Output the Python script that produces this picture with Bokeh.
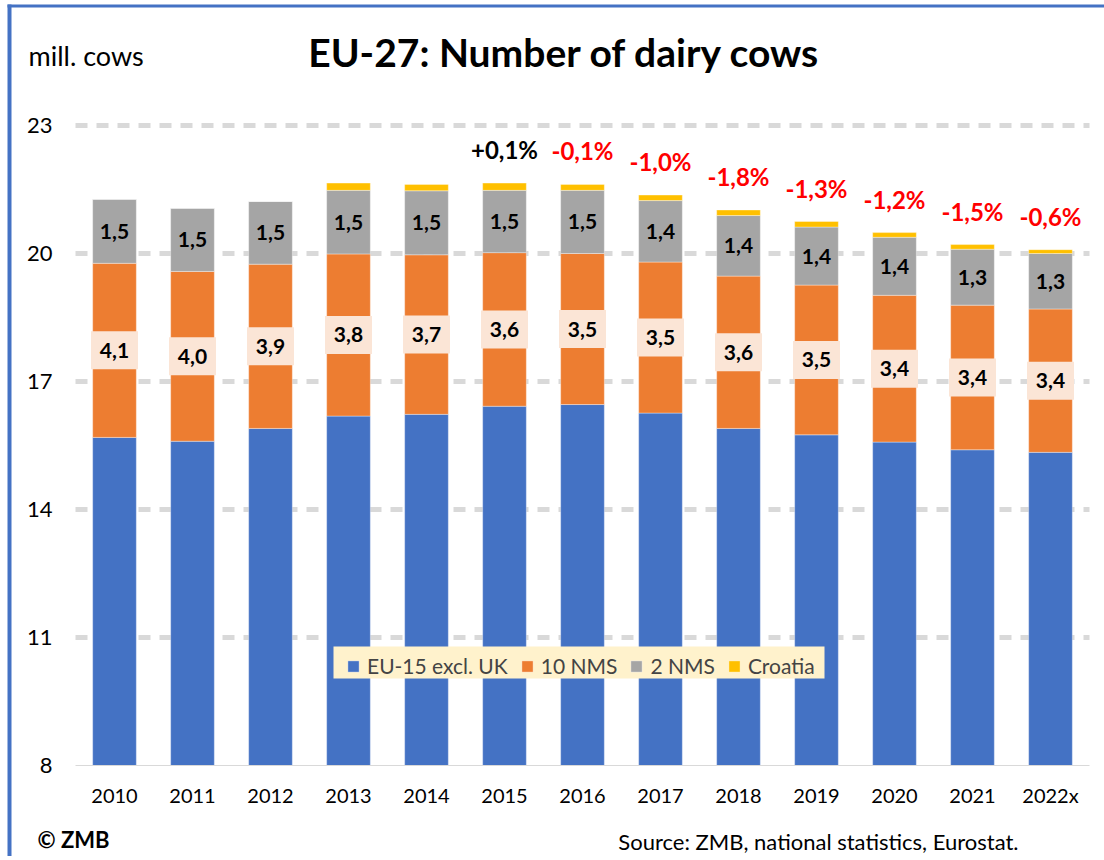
import numpy as np
from bokeh.plotting import figure
from bokeh.models import (ColumnDataSource, Range1d, FixedTicker, LinearAxis,
                          Legend, LegendItem, Label, BoxAnnotation)
from bokeh.core.properties import value
from bokeh.embed import file_html
from bokeh.resources import INLINE

# ---------------- data ----------------
years = ["2010", "2011", "2012", "2013", "2014", "2015", "2016",
         "2017", "2018", "2019", "2020", "2021", "2022x"]
eu15 = [15.69, 15.60, 15.90, 16.19, 16.23, 16.42, 16.46, 16.26, 15.90, 15.75, 15.58, 15.40, 15.34]
nms10 = [4.08, 3.98, 3.85, 3.80, 3.74, 3.60, 3.54, 3.54, 3.57, 3.51, 3.44, 3.39, 3.36]
nms2 = [1.50, 1.48, 1.47, 1.49, 1.50, 1.46, 1.48, 1.44, 1.42, 1.36, 1.36, 1.31, 1.30]
croatia = [0.0, 0.0, 0.0, 0.17, 0.15, 0.17, 0.14, 0.13, 0.13, 0.13, 0.11, 0.11, 0.09]
pct_change = ["", "", "", "", "", "+0,1%", "-0,1%", "-1,0%", "-1,8%", "-1,3%", "-1,2%", "-1,5%", "-0,6%"]
series_names = ["EU-15 excl. UK", "10 NMS", "2 NMS", "Croatia"]
y_ticks = [8, 11, 14, 17, 20, 23]

colors = ["#4472C4", "#ED7D31", "#A5A5A5", "#FFC000"]
FONT = "Lato"
W, H = 1104, 856

n = len(years)
xi = list(range(n))
a_eu15 = np.array(eu15)
a_nms10 = np.array(nms10)
a_nms2 = np.array(nms2)
a_cro = np.array(croatia)
base = y_ticks[0]  # value axis starts at 8


def fmt(v):
    return f"{v:.1f}".replace(".", ",")


top1 = a_eu15
top2 = top1 + a_nms10
top3 = top2 + a_nms2
top4 = top3 + a_cro

src = ColumnDataSource(dict(
    x=xi, year=years,
    b1=[base] * n, t1=top1.tolist(), t2=top2.tolist(), t3=top3.tolist(), t4=top4.tolist(),
    mid_orange=(top1 + a_nms10 / 2).tolist(),
    mid_gray=(top2 + a_nms2 / 2).tolist(),
    lab_orange=[fmt(v) for v in nms10],
    lab_gray=[fmt(v) for v in nms2],
    pct=pct_change,
    pct_color=["black" if s.startswith("+") else "#FF0000" for s in pct_change],
))

# the frame covers the whole canvas; axes are drawn at fixed locations inside it
p = figure(x_range=Range1d(-1.4615, (W - 114) / 78), y_range=Range1d(5.867, 25.930),
           width=W, height=H, output_backend="svg", toolbar_location=None,
           x_axis_location=None, y_axis_location=None, min_border=0,
           background_fill_color="white", border_fill_color="white")
p.outline_line_color = None
p.grid.visible = False

# blue frame of the graphic (left and top edges)
for l, r, b, t in [(7, 11, 0, H - 4), (7, W, H - 7, H - 4)]:
    p.add_layout(BoxAnnotation(left=l, right=r, bottom=b, top=t,
                               left_units="screen", right_units="screen",
                               bottom_units="screen", top_units="screen",
                               fill_color="#4472C4", fill_alpha=1, line_color=None))

# dashed gridlines across the category band
grid_y = y_ticks[1:]
p.segment(x0=[-0.5] * len(grid_y), x1=[n - 0.5] * len(grid_y), y0=grid_y, y1=grid_y,
          line_color="#D9D9D9", line_width=5, line_dash="12 9")

# stacked bars
rs = []
for (b, t), c in zip([("b1", "t1"), ("t1", "t2"), ("t2", "t3"), ("t3", "t4")], colors):
    rs.append(p.vbar(x="x", bottom=b, top=t, width=0.56, source=src,
                     fill_color=c, line_color="white", line_width=0.8, line_alpha=0.45))

# axes
yaxis = LinearAxis(fixed_location=-0.5, ticker=FixedTicker(ticks=y_ticks),
                   axis_line_color=None, major_tick_line_color=None,
                   major_tick_out=0, major_tick_in=0,
                   minor_tick_line_color=None, major_label_standoff=23,
                   major_label_text_font=FONT, major_label_text_font_size="22px",
                   major_label_text_color="black")
p.add_layout(yaxis, "left")

xaxis = LinearAxis(fixed_location=base, bounds=(-0.5, n - 0.5),
                   ticker=FixedTicker(ticks=xi),
                   major_label_overrides={i: y for i, y in zip(xi, years)},
                   axis_line_color="#D9D9D9", axis_line_width=1,
                   major_tick_line_color=None, minor_tick_line_color=None,
                   major_tick_out=0, major_tick_in=0,
                   major_label_standoff=18, major_label_text_font=FONT,
                   major_label_text_font_size="20px", major_label_text_color="black")
p.add_layout(xaxis, "below")

# segment labels
p.rect(x="x", y="mid_orange", width=47, height=38, width_units="screen",
       height_units="screen", source=src, fill_color="#FBE5D6", line_color=None)
p.text(x="x", y="mid_orange", text="lab_orange", source=src, text_align="center",
       text_baseline="middle", text_font=value(FONT), text_font_style="bold",
       text_font_size="21px", text_color="black")
p.text(x="x", y="mid_gray", text="lab_gray", source=src, text_align="center",
       text_baseline="middle", text_font=value(FONT), text_font_style="bold",
       text_font_size="21px", text_color="black")
p.text(x="x", y="t4", text="pct", source=src, text_align="center",
       text_baseline="bottom", y_offset=-19, text_font=value(FONT), text_font_style="bold",
       text_font_size="24px", text_color="pct_color")

# legend
p.add_layout(BoxAnnotation(left=333, right=824, bottom=178, top=210,
                           left_units="screen", right_units="screen",
                           bottom_units="screen", top_units="screen",
                           fill_color="#FFF2CC", fill_alpha=1, line_color=None))
legend = Legend(items=[LegendItem(label=nm, renderers=[r]) for nm, r in zip(series_names, rs)],
                location=(346, 178), orientation="horizontal",
                background_fill_alpha=0, border_line_color=None,
                glyph_width=14, glyph_height=14, label_standoff=7, spacing=12,
                padding=2, margin=0,
                label_text_font=FONT, label_text_font_size="21px")
p.add_layout(legend)

# texts around the chart
p.add_layout(Label(x=28, y=H - 55, x_units="screen", y_units="screen", text="mill. cows",
                   text_baseline="middle", text_font=FONT, text_font_size="27px",
                   text_color="black"))
p.add_layout(Label(x=564, y=H - 51, x_units="screen", y_units="screen",
                   text="EU-27: Number of dairy cows", text_align="center",
                   text_baseline="middle", text_font=FONT, text_font_style="bold",
                   text_font_size="39px", text_color="black"))
p.add_layout(Label(x=37, y=H - 839, x_units="screen", y_units="screen", text="© ZMB",
                   text_baseline="middle", text_font=FONT, text_font_style="bold",
                   text_font_size="22px", text_color="black"))
p.add_layout(Label(x=1018, y=H - 841, x_units="screen", y_units="screen",
                   text="Source: ZMB, national statistics, Eurostat.", text_align="right",
                   text_baseline="middle", text_font=FONT, text_font_size="22px",
                   text_color="black"))

open("out.html", "w").write(file_html(p, INLINE))
